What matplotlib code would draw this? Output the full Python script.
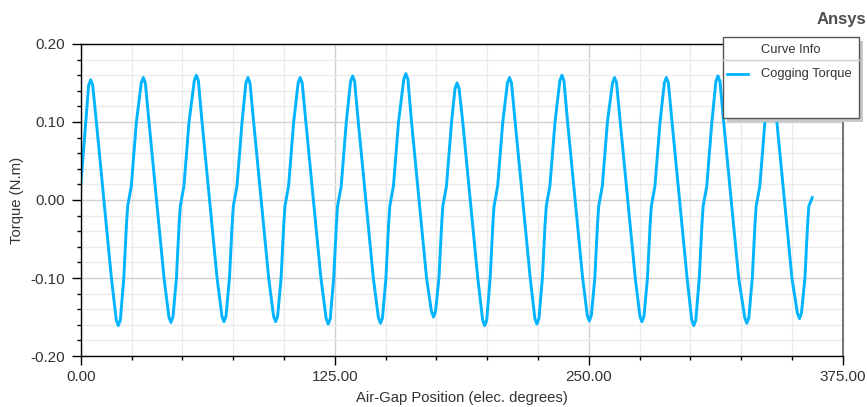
import matplotlib as mpl
mpl.use('Agg')

import matplotlib.pyplot as plt
from matplotlib.patches import Rectangle
from matplotlib.lines import Line2D
from matplotlib.ticker import MultipleLocator, FormatStrFormatter

#
#--- cogging torque curve (elec. degrees, N.m)
#--- one row per cycle: peak, falling edge, trough, rising edge (with the small shoulder near zero)
#
position = [
    0.0, 1.3, 2.5, 3.9,
    4.9, 5.9, 7.7, 11.4, 15.1, 17.5, 18.5, 19.5, 21.2, 22.5, 23.1, 24.9, 27.4, 29.8,
    30.8, 31.8, 33.6, 37.3, 41.0, 43.4, 44.4, 45.4, 47.1, 48.4, 49.0, 50.8, 53.3, 55.9,
    56.9, 57.9, 59.7, 63.4, 67.1, 69.5, 70.5, 71.5, 73.2, 74.5, 75.1, 76.9, 79.4, 81.3,
    82.3, 83.3, 85.1, 88.8, 92.5, 94.9, 95.9, 96.9, 98.6, 99.9, 100.5, 102.3, 104.8, 107.0,
    108.0, 109.0, 110.8, 114.5, 118.2, 120.8, 121.8, 122.8, 124.5, 125.8, 126.4, 128.2, 130.7, 132.8,
    133.8, 134.8, 136.6, 140.3, 144.0, 146.5, 147.5, 148.5, 150.2, 151.5, 152.1, 153.9, 156.4, 159.0,
    160.0, 161.0, 162.8, 166.5, 170.2, 172.6, 173.6, 174.6, 176.3, 177.6, 178.2, 180.0, 182.5, 184.2,
    185.2, 186.2, 188.0, 191.7, 195.4, 197.8, 198.8, 199.8, 201.5, 202.8, 203.4, 205.2, 207.7, 210.0,
    211.0, 212.0, 213.8, 217.5, 221.2, 223.5, 224.5, 225.5, 227.2, 228.5, 229.1, 230.9, 233.4, 235.8,
    236.8, 237.8, 239.6, 243.3, 247.0, 249.3, 250.3, 251.3, 253.0, 254.3, 254.9, 256.7, 259.2, 261.7,
    262.7, 263.7, 265.5, 269.2, 272.9, 275.2, 276.2, 277.2, 278.9, 280.2, 280.8, 282.6, 285.1, 287.2,
    288.2, 289.2, 291.0, 294.7, 298.4, 300.7, 301.7, 302.7, 304.4, 305.7, 306.3, 308.1, 310.6, 312.6,
    313.6, 314.6, 316.4, 320.1, 323.8, 326.8, 327.8, 328.8, 330.5, 331.8, 332.4, 334.2, 336.7, 338.8,
    339.8, 340.8, 342.6, 346.3, 350.0, 352.7, 353.7, 354.7, 356.4, 357.7, 358.3, 360.0,
]

torque = [
    0.018, 0.060, 0.100, 0.147,
    0.154, 0.147, 0.100, 0.000, -0.100, -0.154, -0.161, -0.154, -0.100, -0.032, -0.008, 0.018, 0.100, 0.150,
    0.157, 0.150, 0.100, 0.000, -0.100, -0.150, -0.157, -0.150, -0.100, -0.032, -0.008, 0.018, 0.100, 0.153,
    0.160, 0.153, 0.100, 0.000, -0.100, -0.149, -0.156, -0.149, -0.100, -0.032, -0.008, 0.018, 0.100, 0.150,
    0.157, 0.150, 0.100, 0.000, -0.100, -0.149, -0.156, -0.149, -0.100, -0.032, -0.008, 0.018, 0.100, 0.150,
    0.157, 0.150, 0.100, 0.000, -0.100, -0.152, -0.159, -0.152, -0.100, -0.032, -0.008, 0.018, 0.100, 0.152,
    0.159, 0.152, 0.100, 0.000, -0.100, -0.151, -0.158, -0.151, -0.100, -0.032, -0.008, 0.018, 0.100, 0.155,
    0.162, 0.155, 0.100, 0.000, -0.100, -0.143, -0.150, -0.143, -0.100, -0.032, -0.008, 0.018, 0.100, 0.143,
    0.150, 0.143, 0.100, 0.000, -0.100, -0.154, -0.161, -0.154, -0.100, -0.032, -0.008, 0.018, 0.100, 0.150,
    0.157, 0.150, 0.100, 0.000, -0.100, -0.152, -0.159, -0.152, -0.100, -0.032, -0.008, 0.018, 0.100, 0.153,
    0.160, 0.153, 0.100, 0.000, -0.100, -0.148, -0.155, -0.148, -0.100, -0.032, -0.008, 0.018, 0.100, 0.150,
    0.157, 0.150, 0.100, 0.000, -0.100, -0.149, -0.156, -0.149, -0.100, -0.032, -0.008, 0.018, 0.100, 0.150,
    0.157, 0.150, 0.100, 0.000, -0.100, -0.154, -0.161, -0.154, -0.100, -0.032, -0.008, 0.018, 0.100, 0.152,
    0.159, 0.152, 0.100, 0.000, -0.100, -0.151, -0.158, -0.151, -0.100, -0.032, -0.008, 0.018, 0.100, 0.150,
    0.157, 0.150, 0.100, 0.000, -0.100, -0.145, -0.152, -0.145, -0.100, -0.032, -0.008, 0.003,
]

curve_name = 'Cogging Torque'
line_color = '#00b4ff'
txt_color  = '#333333'

#
#--- figure and axes placement (867 x 407 px)
#
mpl.rcParams['font.family'] = ['Liberation Sans', 'DejaVu Sans']
mpl.rcParams['font.size']   = 10

fig = plt.figure(figsize=(8.67, 4.07), dpi=100)
ax  = fig.add_axes([0.0931, 0.1253, 0.8789, 0.7666])

ax.set_xlim(0, 375)
ax.set_ylim(-0.20, 0.20)
ax.xaxis.set_major_locator(MultipleLocator(125))
ax.xaxis.set_minor_locator(MultipleLocator(25))
ax.yaxis.set_major_locator(MultipleLocator(0.10))
ax.yaxis.set_minor_locator(MultipleLocator(0.02))
ax.xaxis.set_major_formatter(FormatStrFormatter('%.2f'))
ax.yaxis.set_major_formatter(FormatStrFormatter('%.2f'))
#
#--- grid: light minor, slightly darker major
#
ax.grid(which='minor', color='#ebebeb', lw=1.0)
ax.grid(which='major', color='#cfcfcf', lw=1.0)
ax.set_axisbelow(True)

ax.tick_params(which='major', direction='out', length=6.5, width=1.0, colors='black',
               labelcolor=txt_color, labelsize=11)
ax.tick_params(which='minor', direction='out', length=3.0, width=1.0, colors='black')
ax.tick_params(axis='y', which='major', pad=4.5)
ax.tick_params(axis='x', which='major', pad=3.5)

for side in ['left', 'bottom', 'top']:
    ax.spines[side].set_color('black')
    ax.spines[side].set_linewidth(1.0)
ax.spines['right'].set_color('#777777')
ax.spines['right'].set_linewidth(1.5)

#
#--- the curve
#
ax.plot(position, torque, color=line_color, lw=2.1, solid_joinstyle='round')

ax.set_xlabel('Air-Gap Position (elec. degrees)', color=txt_color, fontsize=10.7, labelpad=5)
ax.set_ylabel('Torque (N.m)', color=txt_color, fontsize=10.7, labelpad=5)

#
#--- Ansys mark
#
fig.text(0.999, 0.951, 'Ansys', ha='right', va='center', fontsize=12,
         fontweight='bold', color='#505050')

#
#--- curve info box (drawn on the figure, it runs past the right spine)
#
bx0, bx1 = 0.8336, 0.9911
by0, by1 = 0.7093, 0.9098
dx, dy   = 4 / 867, 4 / 407

fig.add_artist(Rectangle((bx0 + dx, by0 - dy), bx1 - bx0, by1 - by0, transform=fig.transFigure,
                         facecolor='#c8c8c8', edgecolor='none', zorder=5))
fig.add_artist(Rectangle((bx0, by0), bx1 - bx0, by1 - by0, transform=fig.transFigure,
                         facecolor='white', edgecolor='#555555', lw=1.0, zorder=6))
fig.add_artist(Line2D([bx0, bx1], [0.8526, 0.8526], transform=fig.transFigure,
                      color='#d0d0d0', lw=1.0, zorder=7))
fig.text(0.9123, 0.8771, 'Curve Info', ha='center', va='center', fontsize=9.3,
         color=txt_color, zorder=8)
fig.add_artist(Line2D([0.8385, 0.8628], [0.8189, 0.8189], transform=fig.transFigure,
                      color=line_color, lw=2.0, zorder=8))
fig.text(0.8778, 0.8189, curve_name, ha='left', va='center', fontsize=9.3,
         color=txt_color, zorder=8)

fig.savefig('out.png', dpi=100)
plt.close('all')
